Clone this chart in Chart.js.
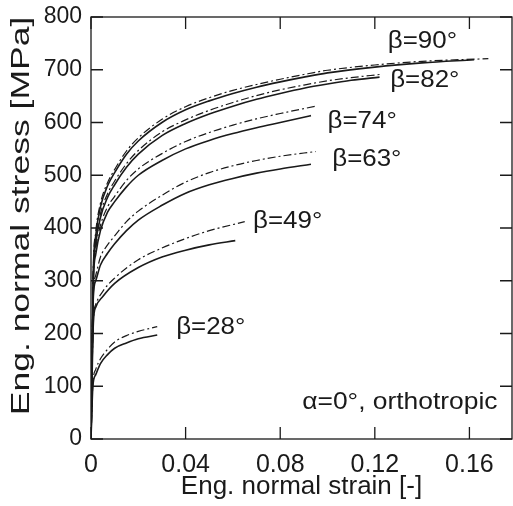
<!DOCTYPE html>
<html>
<head>
<meta charset="utf-8">
<script src="https://cdn.jsdelivr.net/npm/chart.js@4/dist/chart.umd.min.js"></script>
<style>
  html, body { margin: 0; padding: 0; background: #fff; }
  #wrap { width: 513px; height: 506px; }
</style>
</head>
<body>
<div id="wrap"><canvas id="chart"></canvas></div>
<script>
// stress-strain curves, [strain, stress MPa]; solid = test, dash-dot = model
const b90Solid = [[0,0],[0.001,320],[0.002,385],[0.004,440],[0.007,480],[0.01,505],[0.015,540],[0.02,565],[0.03,600],[0.04,624],[0.05,641],[0.06,655],[0.07,667],[0.08,677],[0.09,686],[0.10,694],[0.12,705],[0.14,713],[0.162,719]];
const b90Dash  = [[0,0],[0.001,325],[0.002,392],[0.004,447],[0.007,486],[0.01,511],[0.015,546],[0.02,571],[0.03,606],[0.04,630],[0.05,647],[0.06,661],[0.07,672],[0.08,682],[0.09,691],[0.10,699],[0.12,709],[0.14,716],[0.168,721]];
const b82Solid = [[0,0],[0.001,310],[0.002,370],[0.004,420],[0.007,458],[0.01,482],[0.015,515],[0.02,540],[0.03,575],[0.04,598],[0.05,616],[0.06,631],[0.07,644],[0.08,655],[0.09,665],[0.10,673],[0.11,680],[0.122,686]];
const b82Dash  = [[0,0],[0.001,315],[0.002,376],[0.004,427],[0.007,465],[0.01,489],[0.015,522],[0.02,547],[0.03,582],[0.04,605],[0.05,623],[0.06,638],[0.07,651],[0.08,662],[0.09,671],[0.10,679],[0.11,685],[0.122,691]];
const b74Solid = [[0,0],[0.001,300],[0.002,350],[0.004,395],[0.007,430],[0.01,450],[0.015,478],[0.02,500],[0.03,528],[0.04,550],[0.05,566],[0.06,579],[0.07,590],[0.08,600],[0.093,613]];
const b74Dash  = [[0,0],[0.001,305],[0.002,360],[0.004,405],[0.007,440],[0.01,460],[0.015,490],[0.02,512],[0.03,541],[0.04,564],[0.05,581],[0.06,595],[0.07,607],[0.08,617],[0.095,631]];
const b63Solid = [[0,0],[0.001,270],[0.002,300],[0.004,330],[0.007,352],[0.01,370],[0.015,395],[0.02,415],[0.03,443],[0.04,466],[0.05,482],[0.06,494],[0.07,504],[0.08,512],[0.093,521]];
const b63Dash  = [[0,0],[0.001,275],[0.002,310],[0.004,345],[0.007,368],[0.01,385],[0.015,412],[0.02,432],[0.03,462],[0.04,487],[0.05,505],[0.06,518],[0.07,528],[0.08,536],[0.095,545]];
const b49Solid = [[0,0],[0.001,220],[0.002,250],[0.005,270],[0.01,295],[0.02,325],[0.03,345],[0.04,358],[0.05,368],[0.061,376]];
const b49Dash  = [[0,0],[0.001,225],[0.002,255],[0.005,280],[0.01,305],[0.02,340],[0.03,362],[0.04,380],[0.05,395],[0.065,412]];
const b28Solid = [[0,0],[0.0008,100],[0.002,122],[0.004,143],[0.007,160],[0.01,172],[0.015,182],[0.02,190],[0.028,197]];
const b28Dash  = [[0,0],[0.0008,105],[0.002,132],[0.004,152],[0.007,170],[0.01,184],[0.015,196],[0.02,204],[0.028,213]];

const xTicks = [0, 0.04, 0.08, 0.12, 0.16];
const yTicks = [0, 100, 200, 300, 400, 500, 600, 700, 800];

// curve labels at data coordinates
const notes = [
  ['β=90°', 0.1255, 754],
  ['β=82°', 0.1265, 680],
  ['β=74°', 0.1000, 602],
  ['β=63°', 0.1020, 530],
  ['β=49°', 0.0685, 412],
  ['β=28°', 0.0360, 211],
];
const caseNote = ['α=0°, orthotropic', 0.0893, 70];
const yTitle = 'Eng. normal stress [MPa]';

const FONT = '"Liberation Sans", Arial, sans-serif';
const INK = '#1a1a1a';

function curve(points, dashed) {
  return {
    data: points.map(p => ({x: p[0], y: p[1]})),
    borderColor: INK,
    borderWidth: dashed ? 1.2 : 1.6,
    borderDash: dashed ? [8, 3, 2, 3] : [],
    pointRadius: 0,
    showLine: true,
    fill: false,
    cubicInterpolationMode: 'monotone'
  };
}

// text in the original is a bit wider than Arial, so stretch along the baseline
function wideText(ctx, text, x, y, sx, rot) {
  ctx.save();
  ctx.translate(x, y);
  if (rot) ctx.rotate(rot);
  ctx.scale(sx, 1);
  ctx.fillText(text, 0, 0);
  ctx.restore();
}

const frame = {
  id: 'frame',
  afterDraw(chart) {
    const {ctx, chartArea: a, scales: {x, y}} = chart;
    ctx.save();
    ctx.strokeStyle = INK;
    ctx.lineWidth = 1.3;
    ctx.strokeRect(a.left, a.top, a.right - a.left, a.bottom - a.top);
    ctx.beginPath();
    xTicks.forEach(v => {
      const px = x.getPixelForValue(v);
      ctx.moveTo(px, a.bottom); ctx.lineTo(px, a.bottom - 12);
      ctx.moveTo(px, a.top); ctx.lineTo(px, a.top + 12);
    });
    yTicks.forEach(v => {
      const py = y.getPixelForValue(v);
      ctx.moveTo(a.left, py); ctx.lineTo(a.left + 12, py);
      ctx.moveTo(a.right, py); ctx.lineTo(a.right - 12, py);
    });
    ctx.stroke();

    ctx.fillStyle = INK;
    ctx.font = '24px ' + FONT;
    ctx.textBaseline = 'middle';
    ctx.textAlign = 'left';
    notes.forEach(n => wideText(ctx, n[0], x.getPixelForValue(n[1]), y.getPixelForValue(n[2]), 1.08));
    wideText(ctx, caseNote[0], x.getPixelForValue(caseNote[1]), y.getPixelForValue(caseNote[2]), 1.1);

    ctx.font = '25px ' + FONT;
    ctx.textAlign = 'center';
    wideText(ctx, yTitle, 22, 216, 1.42, -Math.PI / 2);
    ctx.restore();
  }
};

new Chart(document.getElementById('chart'), {
  type: 'scatter',
  data: {
    datasets: [
      curve(b90Solid, false), curve(b90Dash, true),
      curve(b82Solid, false), curve(b82Dash, true),
      curve(b74Solid, false), curve(b74Dash, true),
      curve(b63Solid, false), curve(b63Dash, true),
      curve(b49Solid, false), curve(b49Dash, true),
      curve(b28Solid, false), curve(b28Dash, true)
    ]
  },
  options: {
    responsive: true,
    maintainAspectRatio: false,
    animation: false,
    layout: { padding: { top: 17, right: 1, left: 0, bottom: 0 } },
    plugins: { legend: { display: false }, tooltip: { enabled: false } },
    scales: {
      x: {
        type: 'linear', min: 0, max: 0.178,
        afterBuildTicks: s => { s.ticks = xTicks.map(v => ({value: v})); },
        afterFit: s => { s.height = 67; s.paddingLeft = 0; s.paddingRight = 0; },
        grid: { display: false },
        border: { display: false },
        ticks: { color: INK, padding: 3, maxRotation: 0, font: { family: FONT, size: 25 }, callback: v => String(v) },
        title: { display: true, text: 'Eng. normal strain [-]', color: INK, font: { family: FONT, size: 26 }, padding: { top: 0, bottom: 4 } }
      },
      y: {
        type: 'linear', min: 0, max: 800,
        afterBuildTicks: s => { s.ticks = yTicks.map(v => ({value: v})); },
        afterFit: s => { s.width = 91; s.paddingTop = 0; s.paddingBottom = 0; },
        grid: { display: false },
        border: { display: false },
        ticks: { color: INK, padding: 1, font: { family: FONT, size: 23 } }
      }
    }
  },
  plugins: [frame]
});
</script>
</body>
</html>
